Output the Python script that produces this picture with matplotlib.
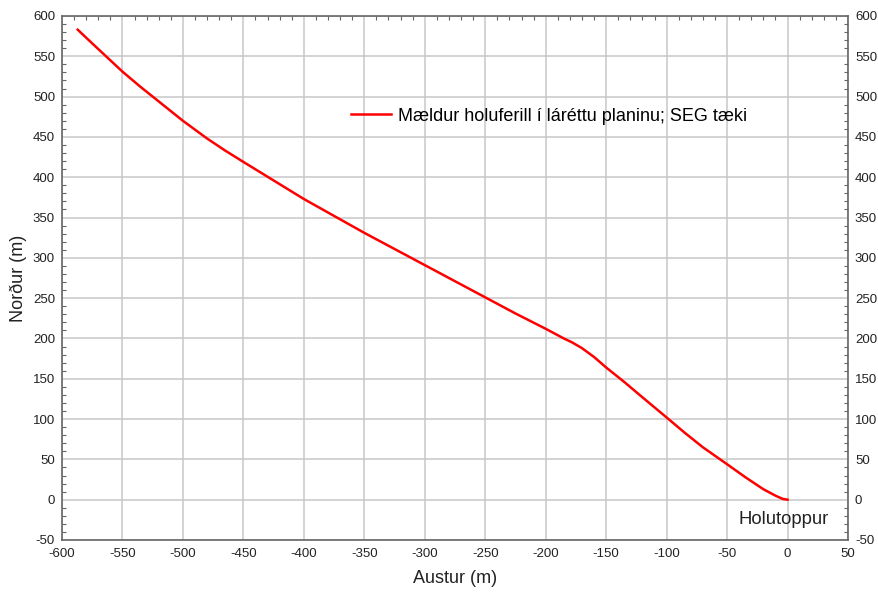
import matplotlib
matplotlib.use("Agg")
import matplotlib.pyplot as plt
from matplotlib.ticker import MultipleLocator

plt.rcParams['font.family'] = ['Liberation Sans', 'DejaVu Sans']
plt.rcParams['axes.unicode_minus'] = False

# Measured well path in the horizontal plane (east, north) in metres
austur = [-587, -575, -560, -550, -535, -520, -500, -480, -465, -450, -425,
          -400, -375, -350, -325, -300, -275, -250, -225, -200, -185, -178,
          -170, -160, -150, -135, -120, -100, -85, -70, -50, -35, -20, -10, -4, 0]
nordur = [583, 566, 545, 531, 512, 494, 470, 448, 433, 419, 396,
          373, 352, 331, 311, 291, 271, 251, 231, 212, 200, 195,
          188, 177, 164, 146, 127, 102, 83, 65, 44, 28, 13, 5, 1, 0]

fig = plt.figure(figsize=(8.79, 5.94), dpi=100)
ax = fig.add_axes([62/879, 1 - 540/594, (848-62)/879, (540-16)/594])

ax.plot(austur, nordur, color='#ff0000', lw=1.8,
        label='Mældur holuferill í láréttu planinu; SEG tæki', zorder=3)

ax.set_xlim(-600, 50)
ax.set_ylim(-50, 600)
ax.xaxis.set_major_locator(MultipleLocator(50))
ax.yaxis.set_major_locator(MultipleLocator(50))
ax.xaxis.set_minor_locator(MultipleLocator(10))
ax.yaxis.set_minor_locator(MultipleLocator(10))

ax.grid(True, which='major', color='#c8c8c8', lw=1.1, zorder=0)

ax.tick_params(which='major', length=0, labelsize=9.5, colors='#222222', pad=4)
ax.tick_params(axis='x', which='minor', bottom=False, top=True, direction='in', length=3,
               color='#666666', width=0.8)
ax.tick_params(axis='y', which='minor', left=True, right=True, direction='in', length=3,
               color='#666666', width=0.8)
ax.tick_params(axis='y', which='major', labelright=True, right=False, pad=5)
ax.tick_params(axis='x', which='major', pad=6)

for s in ax.spines.values():
    s.set_color('#666666')
    s.set_linewidth(1.2)

ax.set_xlabel('Austur (m)', fontsize=13, labelpad=7, color='#222222')
ax.set_ylabel('Norður (m)', fontsize=13, labelpad=4, color='#222222')

ax.legend(loc='center left', bbox_to_anchor=(0.347, 0.809), frameon=False,
          fontsize=13, handlelength=2.2, handletextpad=0.4)

ax.text(34, -25, 'Holutoppur', ha='right', va='center', fontsize=13.3, color='#222222')

fig.savefig('out.png', dpi=100)
